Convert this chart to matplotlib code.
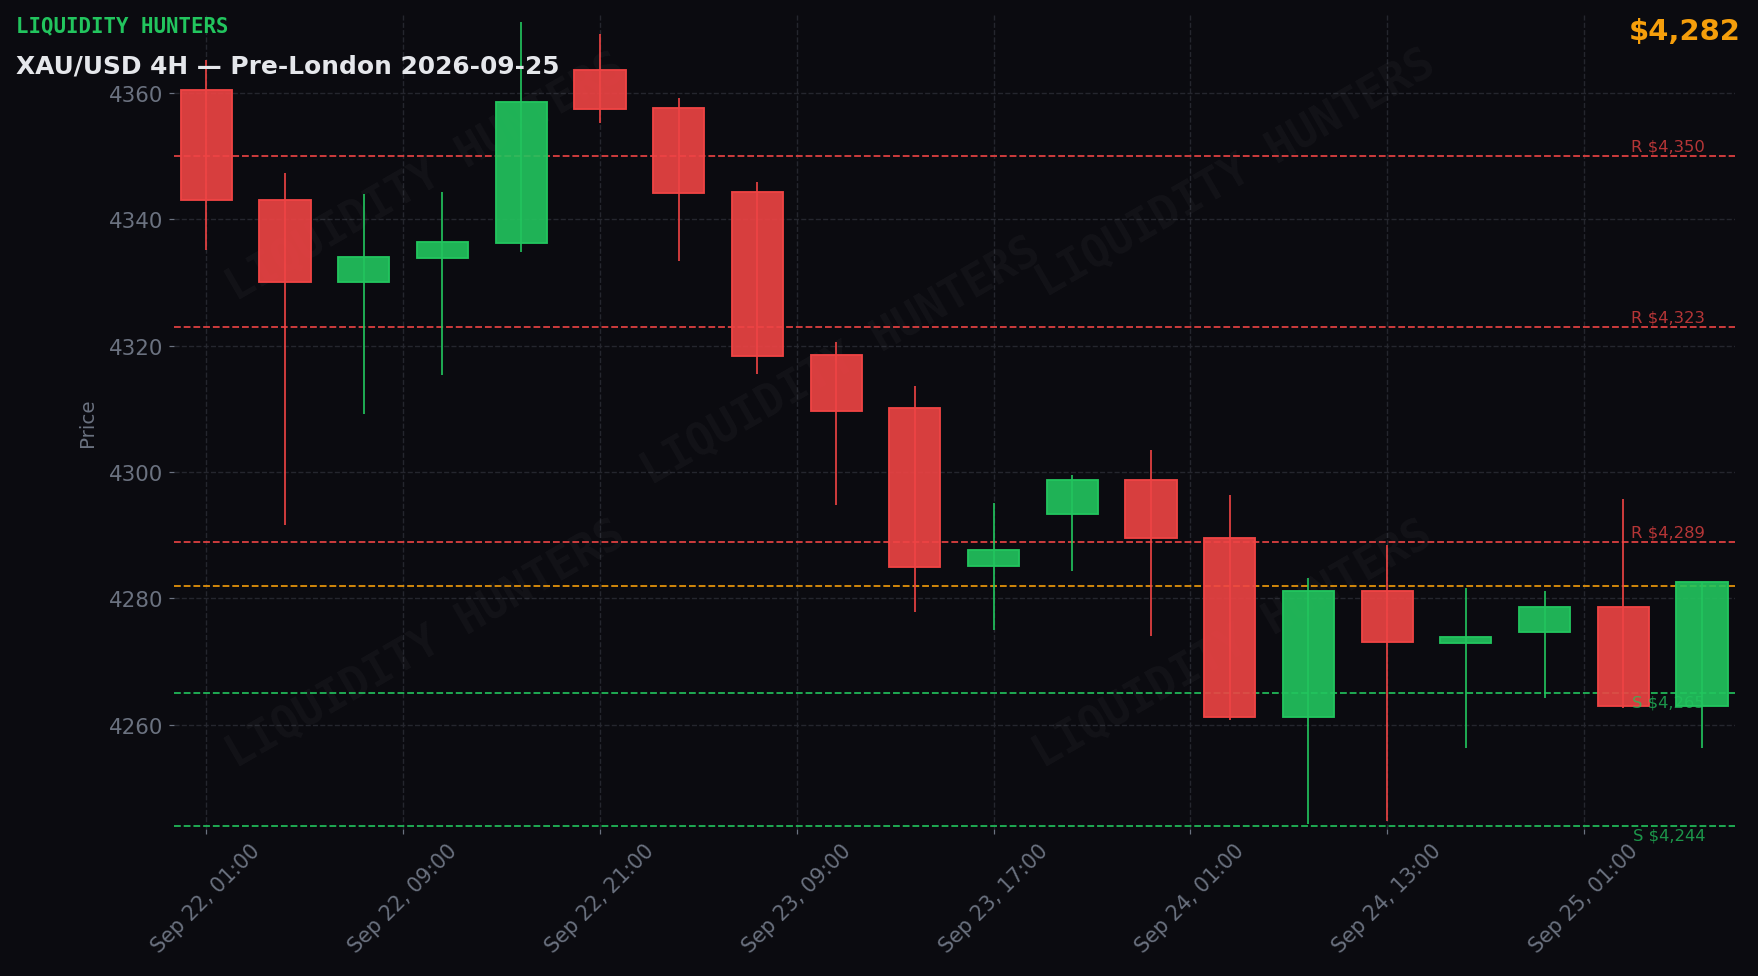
import numpy as np
import matplotlib
matplotlib.use("Agg")
import matplotlib.pyplot as plt
from matplotlib.ticker import MultipleLocator

# 4H candles
opens  = [4360.5, 4343.0, 4330.1, 4333.9, 4336.3, 4363.7, 4357.7, 4344.3, 4318.5, 4310.1,
          4285.1, 4293.3, 4298.7, 4289.5, 4261.3, 4281.2, 4272.9, 4274.7, 4278.6, 4262.9]
highs  = [4365.2, 4347.4, 4344.1, 4344.3, 4371.3, 4369.4, 4359.3, 4345.9, 4320.6, 4313.7,
          4295.1, 4299.6, 4303.5, 4296.3, 4283.3, 4288.5, 4281.6, 4281.1, 4295.8, 4282.6]
lows   = [4335.1, 4291.7, 4309.2, 4315.3, 4334.8, 4355.3, 4333.4, 4315.6, 4294.8, 4277.8,
          4275.0, 4284.4, 4274.1, 4260.8, 4244.3, 4244.8, 4256.3, 4264.3, 4262.6, 4256.3]
closes = [4343.0, 4330.1, 4334.1, 4336.5, 4358.6, 4357.5, 4344.2, 4318.3, 4309.7, 4285.0,
          4287.6, 4298.7, 4289.6, 4261.3, 4281.2, 4273.1, 4273.9, 4278.6, 4262.9, 4282.6]

tick_pos = [0, 2.5, 5, 7.5, 10, 12.5, 15, 17.5]
tick_labels = ['Sep 22, 01:00', 'Sep 22, 09:00', 'Sep 22, 21:00', 'Sep 23, 09:00',
               'Sep 23, 17:00', 'Sep 24, 01:00', 'Sep 24, 13:00', 'Sep 25, 01:00']

resistance = [4350, 4323, 4289]
support = [4265, 4244]
current = 4282

BG = '#0b0b10'
RED = '#ef4444'
GREEN = '#22c55e'
ORANGE = '#f59e0b'
GRAY = '#6b7280'

fig = plt.figure(figsize=(1758 / 110, 977 / 110), dpi=110, facecolor=BG)
ax = fig.add_axes([0.099, 0.1505, 0.888, 0.834], facecolor=BG)

x = np.arange(len(opens))
o = np.array(opens); c = np.array(closes)
up = c >= o
cols = np.where(up, GREEN, RED)

ax.vlines(x, lows, highs, colors=cols, linewidth=1.1, zorder=3)
ax.bar(x, np.abs(c - o), bottom=np.minimum(o, c), width=0.65, color=cols, alpha=0.9,
       edgecolor='none', zorder=4)
ax.bar(x, np.abs(c - o), bottom=np.minimum(o, c), width=0.65, fill=False,
       edgecolor=cols, linewidth=1.2, zorder=5)

last = len(opens) - 1
for lv in resistance:
    ax.axhline(lv, color=RED, ls='--', lw=1.2, alpha=0.9, zorder=2)
    ax.text(last + 0.04, lv + 0.4, f'R ${lv:,}', color=RED, alpha=0.75, fontsize=10.7,
            ha='right', va='bottom', zorder=6)
for lv in support:
    ax.axhline(lv, color=GREEN, ls='--', lw=1.2, alpha=0.9, zorder=2)
    ax.text(last + 0.04, lv - 0.2, f'S ${lv:,}', color=GREEN, alpha=0.75, fontsize=10.7,
            ha='right', va='top', zorder=6)
ax.axhline(current, color=ORANGE, ls='--', lw=1.2, alpha=0.9, zorder=2)

# watermark
for wx, wy in [(0.161, 0.80), (0.427, 0.574), (0.68, 0.805), (0.161, 0.227), (0.678, 0.227)]:
    ax.text(wx, wy, 'LIQUIDITY HUNTERS', transform=ax.transAxes, rotation=30,
            fontsize=29, fontweight='bold', family='DejaVu Sans Mono', color='white',
            alpha=0.035, ha='center', va='center', zorder=1)

ax.set_xlim(-0.41, 19.42)
ax.set_ylim(4243.5, 4372.5)
ax.yaxis.set_major_locator(MultipleLocator(20))
ax.set_xticks(tick_pos)
ax.set_xticklabels(tick_labels, rotation=45)
ax.tick_params(colors=GRAY)
ax.tick_params(axis='y', labelsize=14)
ax.tick_params(axis='x', labelsize=13.5)
ax.set_ylabel('Price', color=GRAY, fontsize=13, labelpad=8)
ax.grid(True, color='#25262e', ls='--', lw=0.9)
ax.set_axisbelow(True)
for s in ax.spines.values():
    s.set_visible(False)

fig.text(0.0089, 0.9667, 'LIQUIDITY HUNTERS', color=GREEN, fontsize=13.6,
         fontweight='bold', family='DejaVu Sans Mono', va='baseline')
fig.text(0.0089, 0.9243, 'XAU/USD 4H — Pre-London 2026-09-25', color='#e5e7eb',
         fontsize=16.3, fontweight='bold', va='baseline')
fig.text(0.9903, 0.959, f'${current:,}', color=ORANGE, fontsize=19,
         fontweight='bold', ha='right', va='baseline')

fig.savefig('out.png', dpi=110, facecolor=BG)
